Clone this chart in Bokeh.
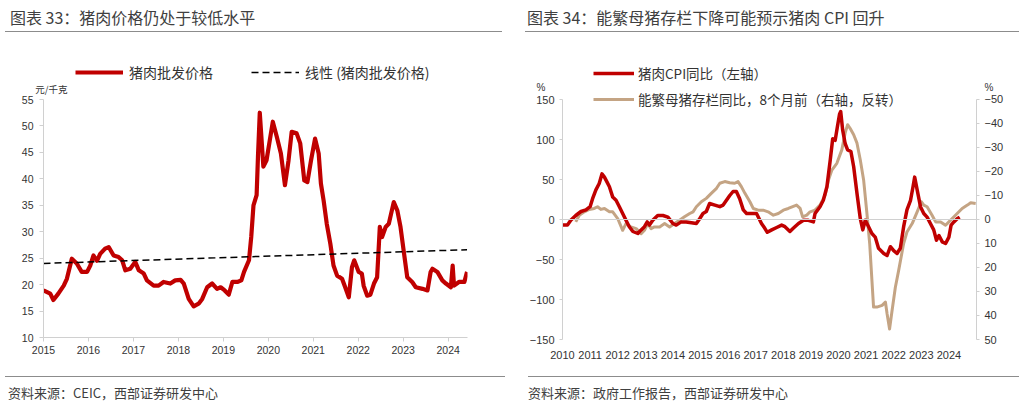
from bokeh.plotting import figure
from bokeh.models import (Range1d, LinearAxis, FixedTicker, Legend, LegendItem,
                          Span, Div)
from bokeh.layouts import row, column
from bokeh.embed import file_html
from bokeh.resources import INLINE

# ---------------- data: chart 33 (pork wholesale price, yuan/kg) ----------------
price_t = [2015.00, 2015.15, 2015.22, 2015.33, 2015.45, 2015.52, 2015.63, 2015.74, 2015.85, 2015.97,
           2016.04, 2016.11, 2016.19, 2016.26, 2016.37, 2016.45, 2016.56, 2016.67, 2016.75, 2016.82,
           2016.93, 2017.04, 2017.12, 2017.23, 2017.30, 2017.45, 2017.56, 2017.67, 2017.82, 2017.93,
           2018.05, 2018.12, 2018.23, 2018.34, 2018.45, 2018.53, 2018.64, 2018.75, 2018.86, 2018.94,
           2019.03, 2019.12, 2019.20, 2019.31, 2019.40, 2019.46, 2019.57, 2019.62, 2019.67, 2019.74,
           2019.77, 2019.81, 2019.89, 2019.96, 2020.10, 2020.19, 2020.28, 2020.37, 2020.45, 2020.52,
           2020.63, 2020.71, 2020.80, 2020.87, 2020.95, 2021.04, 2021.12, 2021.17, 2021.23, 2021.30,
           2021.38, 2021.45, 2021.53, 2021.64, 2021.71, 2021.79, 2021.86, 2021.91, 2022.01, 2022.08,
           2022.12, 2022.20, 2022.27, 2022.35, 2022.42, 2022.48, 2022.53, 2022.61, 2022.68, 2022.79,
           2022.87, 2022.94, 2023.02, 2023.09, 2023.20, 2023.28, 2023.43, 2023.54, 2023.61, 2023.65,
           2023.76, 2023.87, 2023.95, 2024.06, 2024.10, 2024.13, 2024.24, 2024.36, 2024.42]
price_v = [18.9, 18.3, 17.1, 18.3, 19.8, 21.1, 24.9, 24.0, 22.4, 22.4,
           23.6, 25.5, 24.5, 25.8, 26.8, 27.1, 25.5, 25.2, 24.6, 22.7,
           23.0, 24.3, 22.7, 22.1, 20.8, 19.8, 19.8, 20.5, 20.2, 20.8,
           20.9, 20.2, 17.3, 15.9, 16.4, 17.3, 19.5, 20.2, 19.2, 19.5,
           18.9, 18.1, 20.5, 20.5, 20.8, 22.4, 24.6, 29.0, 35.0, 36.9,
           44.2, 52.5, 42.3, 43.5, 50.8, 47.9, 44.8, 38.8, 43.5, 48.9,
           48.6, 46.7, 39.7, 39.4, 43.5, 47.6, 44.8, 39.1, 35.9, 31.5,
           27.7, 23.6, 21.7, 21.1, 19.5, 17.6, 23.3, 24.6, 22.4, 22.1,
           19.8, 17.9, 18.1, 20.2, 21.4, 30.9, 29.0, 30.9, 31.5, 35.6,
           34.0, 30.9, 25.8, 21.4, 20.5, 19.5, 19.2, 18.9, 22.4, 23.0,
           22.4, 20.8, 20.2, 19.5, 23.6, 19.8, 20.5, 20.5, 22.4]
trend_t = [2015.00, 2024.42]
trend_v = [24.0, 26.6]
years_33 = [2015, 2016, 2017, 2018, 2019, 2020, 2021, 2022, 2023, 2024]
yticks_33 = [10, 15, 20, 25, 30, 35, 40, 45, 50, 55]

# ---------------- data: chart 34 ----------------
cpi_t = [2010.00, 2010.18, 2010.30, 2010.48, 2010.67, 2010.85, 2011.00, 2011.09, 2011.21, 2011.33,
         2011.43, 2011.52, 2011.61, 2011.70, 2011.82, 2011.94, 2012.06, 2012.18, 2012.30, 2012.42,
         2012.55, 2012.73, 2012.85, 2012.97, 2013.07, 2013.15, 2013.27, 2013.45, 2013.64, 2013.82,
         2014.00, 2014.12, 2014.30, 2014.48, 2014.67, 2014.85, 2014.97, 2015.09, 2015.21, 2015.33,
         2015.52, 2015.70, 2015.82, 2015.94, 2016.06, 2016.18, 2016.30, 2016.42, 2016.55, 2016.67,
         2016.85, 2017.03, 2017.21, 2017.33, 2017.42, 2017.58, 2017.76, 2017.94, 2018.06, 2018.24,
         2018.36, 2018.55, 2018.73, 2018.91, 2019.09, 2019.15, 2019.33, 2019.45, 2019.58, 2019.70,
         2019.79, 2019.88, 2019.96, 2020.04, 2020.08, 2020.15, 2020.24, 2020.33, 2020.45, 2020.55,
         2020.67, 2020.79, 2020.88, 2020.97, 2021.09, 2021.21, 2021.33, 2021.45, 2021.64, 2021.76,
         2021.88, 2022.00, 2022.12, 2022.24, 2022.36, 2022.48, 2022.61, 2022.70, 2022.76, 2022.85,
         2022.97, 2023.09, 2023.21, 2023.33, 2023.45, 2023.55, 2023.64, 2023.76, 2023.88, 2024.00,
         2024.08, 2024.18, 2024.30, 2024.39]
cpi_v = [-7, -7, -1, 5, 10, 12, 16, 26, 37, 45,
         57, 53, 47, 41, 28, 24, 16, 7.5, -1, -9,
         -15, -17.5, -13, -9, -3, -7, -1, 5, 5, 3,
         -5, -7, -3, -3, -4, -5, 1, 7.5, 10, 20,
         18, 16, 18, 24, 30, 35, 35, 26, 12, 7.5,
         7.5, 7.5, -5, -11, -16, -13, -10, -7, -9, -15,
         -11, -5, -1, -1, -3, 7.5, 16, 24, 41, 74,
         101, 99, 116, 132, 135, 112, 95, 87, 85, 66,
         32.5, 1, -13, -1, -9, -17.5, -22, -36, -42.5, -45,
         -34, -39, -42.5, -36, -9, 12, 24, 41, 53, 37,
         16, 7.5, 3, -5, -13, -26, -20, -28, -30, -22,
         -7, -3, 1, 3]
sow_t = [2010.48, 2010.61, 2010.79, 2010.97, 2011.15, 2011.27, 2011.39, 2011.52, 2011.70, 2011.82,
         2012.00, 2012.18, 2012.30, 2012.48, 2012.67, 2012.85, 2012.97, 2013.09, 2013.21, 2013.33,
         2013.52, 2013.70, 2013.88, 2014.06, 2014.24, 2014.42, 2014.61, 2014.73, 2014.85, 2015.03,
         2015.21, 2015.39, 2015.58, 2015.70, 2015.88, 2016.06, 2016.24, 2016.36, 2016.48, 2016.61,
         2016.79, 2016.91, 2017.09, 2017.27, 2017.45, 2017.64, 2017.82, 2018.00, 2018.18, 2018.48,
         2018.61, 2018.70, 2018.85, 2018.97, 2019.15, 2019.33, 2019.52, 2019.64, 2019.76, 2019.94,
         2020.12, 2020.24, 2020.33, 2020.42, 2020.55, 2020.67, 2020.79, 2020.91, 2021.03, 2021.13,
         2021.27, 2021.39, 2021.58, 2021.70, 2021.76, 2021.85, 2021.94, 2022.06, 2022.18, 2022.36,
         2022.48, 2022.67, 2022.85, 2023.00, 2023.09, 2023.21, 2023.39, 2023.52, 2023.70, 2023.88,
         2024.00, 2024.12, 2024.30, 2024.48, 2024.67, 2024.79, 2024.97]
sow_v = [1, -1.8, -3.2, -4.2, -4.6, -5.3, -4.2, -4.6, -3.2, -3.2,
         -0.4, 4.5, 1.7, 3.1, 3.8, 5.9, 4.5, 1.7, 3.8, 3.1,
         3.1, 1.7, 3.1, 1.7, 0.3, -1.1, -2.5, -3.2, -5.3, -7.4,
         -8.8, -10.9, -13, -15.1, -15.8, -15.3, -15.1, -15.8, -13.7, -10.9,
         -7.4, -4.6, -3.9, -3.9, -3.2, -1.8, -2.5, -3.9, -4.6, -6,
         -4.6, -1.1, -1.8, -3.2, -3.9, -6, -10.2, -16.5, -20.6, -23.4,
         -29, -36, -39.5, -38, -35.3, -31.8, -24.8, -16.5, -2.5, 10,
         36.5, 36.5, 35.8, 34.4, 39.3, 45.6, 38, 28.2, 21.2, 10,
         5.2, 1.7, -3.2, -7.4, -6, -5.3, -1.8, 1, 1, 2.4,
         1, -0.4, -2.5, -4.6, -6, -7, -6.7]
years_34 = list(range(2010, 2025))
yticks_34_left = [-150, -100, -50, 0, 50, 100, 150]
yticks_34_right = [-50, -40, -30, -20, -10, 0, 10, 20, 30, 40, 50]

RED = "#C00000"
TAN = "#C4A484"
AX = "#d0d0d0"
TXT = "#333333"
CJK = "Noto Sans CJK SC"
NUM = "Liberation Sans"


def style_axis(ax, size="10.5px"):
    ax.axis_line_color = AX
    ax.major_tick_line_color = AX
    ax.minor_tick_line_color = None
    ax.major_label_text_font = NUM
    ax.major_label_text_font_size = size
    ax.major_label_text_color = TXT


def unit_axis(ax, pos, text, standoff, font, size):
    ax.ticker = FixedTicker(ticks=[pos])
    ax.major_label_overrides = {pos: text}
    ax.axis_line_color = None
    ax.major_tick_line_color = None
    ax.minor_tick_line_color = None
    ax.major_tick_out = 0
    ax.major_tick_in = 0
    ax.major_label_standoff = standoff
    ax.major_label_text_font = font
    ax.major_label_text_font_size = size
    ax.major_label_text_color = TXT


# ---------------- chart 33 ----------------
p1 = figure(width=518, height=335, x_range=Range1d(2015, 2024.43), y_range=Range1d(10, 63.32),
            output_backend="svg", toolbar_location=None,
            min_border_left=43, min_border_right=51, min_border_top=22, min_border_bottom=31)
p1.outline_line_color = None
p1.grid.visible = False
r_price = p1.line(price_t, price_v, line_color=RED, line_width=4.2, line_join="round")
r_trend = p1.line(trend_t, trend_v, line_color="black", line_width=1.5, line_dash="7 4")
p1.xaxis.ticker = FixedTicker(ticks=years_33)
p1.xaxis.major_label_overrides = {y: str(y) for y in years_33}
p1.yaxis.ticker = FixedTicker(ticks=yticks_33)
p1.yaxis.bounds = (10, 55)
for ax in (p1.xaxis[0], p1.yaxis[0]):
    style_axis(ax)
    ax.major_tick_out = 4
    ax.major_tick_in = 0
    ax.major_label_standoff = 6
p1.xaxis.major_label_standoff = 4
ax_unit1 = LinearAxis()
unit_axis(ax_unit1, 57, "元/千克", -49, CJK, "9.5px")
p1.add_layout(ax_unit1, "left")

leg1 = Legend(items=[LegendItem(label="猪肉批发价格", renderers=[r_price]),
                     LegendItem(label="线性 (猪肉批发价格)", renderers=[r_trend])],
              orientation="horizontal", location=(32, 255), padding=0, margin=0,
              spacing=38, glyph_width=48, glyph_height=20, label_height=20,
              label_standoff=6, label_text_font=CJK, label_text_font_size="14px",
              label_text_color=TXT, border_line_color=None, background_fill_alpha=0)
p1.add_layout(leg1)

# ---------------- chart 34 ----------------
p2 = figure(width=506, height=335, x_range=Range1d(2010, 2025), y_range=Range1d(-150, 205),
            output_backend="svg", toolbar_location=None,
            min_border_left=44, min_border_right=48, min_border_top=22, min_border_bottom=29)
p2.outline_line_color = None
p2.grid.visible = False
p2.extra_y_ranges = {"sow": Range1d(start=50, end=-68.33)}
p2.add_layout(Span(location=0, dimension="width", line_color=AX, line_width=1))
r_sow = p2.line(sow_t, sow_v, y_range_name="sow", line_color=TAN, line_width=3, line_join="round")
r_cpi = p2.line(cpi_t, cpi_v, line_color=RED, line_width=3.5, line_join="round")
ax_r = LinearAxis(y_range_name="sow", ticker=FixedTicker(ticks=yticks_34_right), bounds=(-50, 50))
p2.add_layout(ax_r, "right")
p2.xaxis.ticker = FixedTicker(ticks=years_34)
p2.xaxis.major_label_overrides = {y: str(y) for y in years_34}
p2.yaxis[0].ticker = FixedTicker(ticks=yticks_34_left)
p2.yaxis[0].bounds = (-150, 150)
style_axis(p2.xaxis[0], "11px")
p2.xaxis.axis_line_color = None
p2.xaxis.major_tick_line_color = None
p2.xaxis.major_label_standoff = 5
for ax in (p2.yaxis[0], ax_r):
    style_axis(ax, "11px")
    ax.major_tick_out = 3
    ax.major_tick_in = 0
    ax.major_label_standoff = 5
ax_unit2l = LinearAxis()
unit_axis(ax_unit2l, 165, "%", -19, NUM, "10px")
p2.add_layout(ax_unit2l, "left")
ax_unit2r = LinearAxis(y_range_name="sow")
unit_axis(ax_unit2r, -55, "%", -22, NUM, "10px")
p2.add_layout(ax_unit2r, "right")

leg2 = Legend(items=[LegendItem(label="猪肉CPI同比（左轴）", renderers=[r_cpi]),
                     LegendItem(label="能繁母猪存栏同比，8个月前（右轴，反转）", renderers=[r_sow])],
              orientation="vertical", location=(31, 230), padding=0, margin=0,
              spacing=6, glyph_width=41, glyph_height=20, label_height=20,
              label_standoff=4, label_text_font=CJK, label_text_font_size="13.5px",
              label_text_color=TXT, border_line_color=None, background_fill_alpha=0)
p2.add_layout(leg2)


# ---------------- headers / footers ----------------
def header(text, width, pad_left, line_w, text_indent):
    html = ('<div style="padding-left:%dpx"><div style="box-sizing:border-box;width:%dpx;'
            'height:32px;padding-top:6px;padding-left:%dpx;border-bottom:1px solid #8c8c8c;'
            'font-family:\'Noto Sans CJK SC\';font-size:16px;line-height:22px;color:#404040;'
            'white-space:nowrap;">%s</div></div>' % (pad_left, line_w, text_indent, text))
    return Div(text=html, width=width, height=33, margin=0)


def footer(text, width, pad_left, line_w, text_indent):
    html = ('<div style="padding-top:8px;padding-left:%dpx"><div style="box-sizing:border-box;'
            'width:%dpx;border-top:1px solid #8c8c8c;padding-top:9px;padding-left:%dpx;'
            'font-family:\'Noto Sans CJK SC\';font-size:13px;line-height:14px;color:#404040;'
            'white-space:nowrap;">%s</div></div>' % (pad_left, line_w, text_indent, text))
    return Div(text=html, width=width, height=36, margin=0)


h1 = header("图表 33：猪肉价格仍处于较低水平", 518, 5, 497, 5)
h2 = header("图表 34：能繁母猪存栏下降可能预示猪肉 CPI 回升", 506, 7, 494, 2)
f1 = footer("资料来源：CEIC，西部证券研发中心", 518, 5, 500, 3)
f2 = footer("资料来源：政府工作报告，西部证券研发中心", 506, 10, 491, 0)

layout = row(column(h1, p1, f1, spacing=0), column(h2, p2, f2, spacing=0), spacing=0)
open("out.html", "w").write(file_html(layout, INLINE))
